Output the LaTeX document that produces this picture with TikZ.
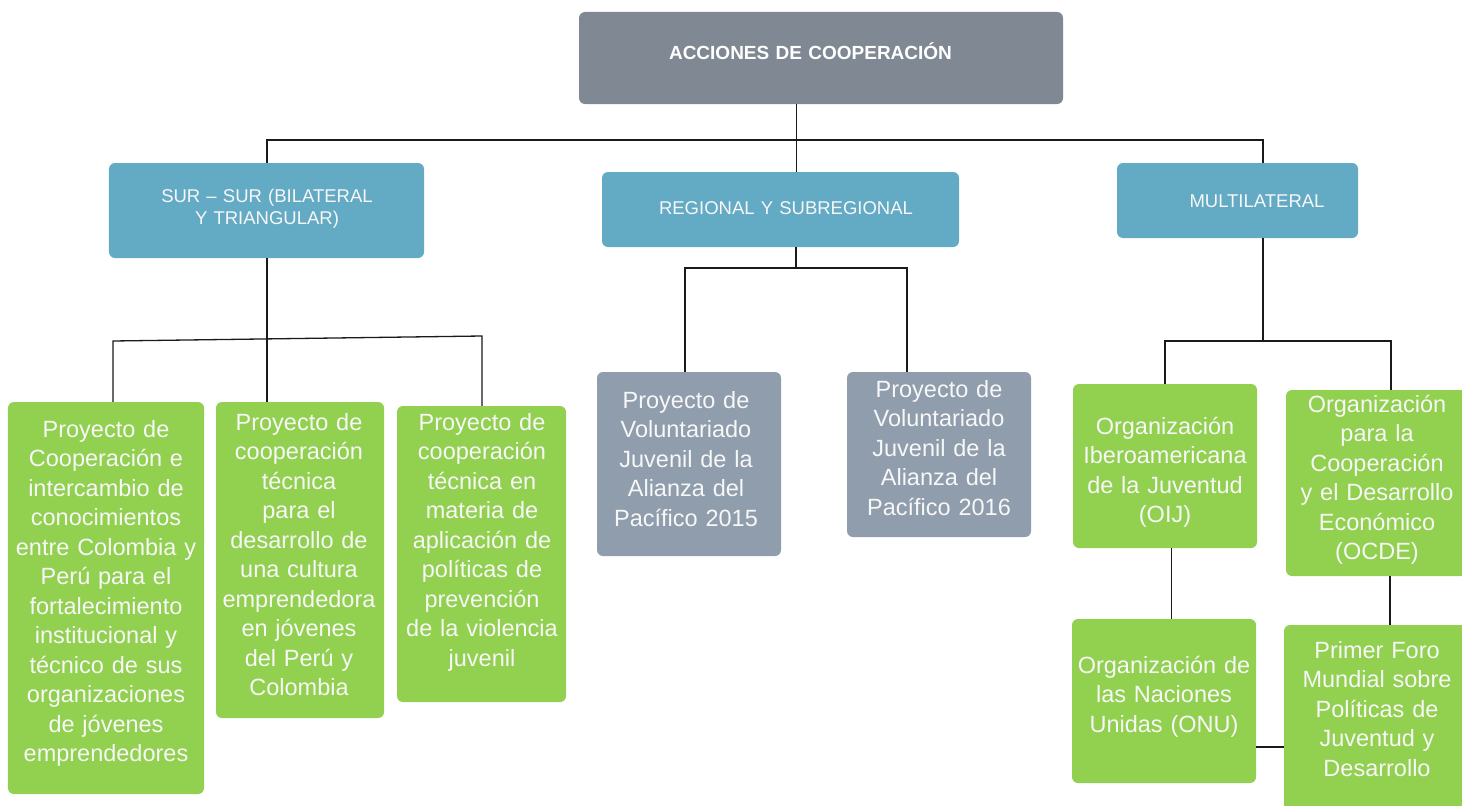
\documentclass[tikz,border=0pt]{standalone}
\usepackage{fontspec}
\setmainfont{Liberation Sans}
\definecolor{topgray}{HTML}{7F8893}
\definecolor{bluebox}{HTML}{63AAC4}
\definecolor{greenbox}{HTML}{92D050}
\definecolor{graybox}{HTML}{8F9DAD}
\definecolor{linec}{HTML}{1A1A1A}
\definecolor{softwhite}{HTML}{F7F7F7}
\tikzset{
  boxbase/.style={rectangle, rounded corners=6bp, inner sep=0pt, draw=none},
  topbox/.style={boxbase, fill=topgray},
  bluebx/.style={boxbase, fill=bluebox},
  greenbx/.style={boxbase, fill=greenbox},
  graybx/.style={boxbase, fill=graybox},
  conn/.style={draw=linec, line width=1.3bp},
  bigtxt/.style={anchor=base, inner sep=0pt, text width=260bp, align=center, text=softwhite,
     font=\fontsize{23.5bp}{29.5bp}\selectfont},
  midtxt/.style={anchor=base, inner sep=0pt, text width=360bp, align=center, text=softwhite,
     font=\fontsize{18.5bp}{22bp}\selectfont},
  toptxt/.style={anchor=base, inner sep=0pt, text width=400bp, align=center, text=white,
     font=\fontsize{19bp}{22bp}\selectfont\bfseries},
}
\begin{document}
\begin{tikzpicture}[x=1bp, y=-1bp]
\useasboundingbox (0,0) rectangle (1462,805);
\clip (0,0) rectangle (1462,805);
\fill[white] (0,0) rectangle (1462,805);

% boxes
\node[topbox, minimum width=484bp, minimum height=92bp] (top) at (821,58) {};
\node[bluebx, minimum width=315bp, minimum height=95bp] (sur) at (266.5,210.5) {};
\node[bluebx, minimum width=357bp, minimum height=75bp] (reg) at (780.5,209.5) {};
\node[bluebx, minimum width=241bp, minimum height=75bp] (mul) at (1237.5,200.5) {};
\node[greenbx, minimum width=196bp, minimum height=392bp] (pA) at (106,598) {};
\node[greenbx, minimum width=168bp, minimum height=316bp] (pB) at (300,560) {};
\node[greenbx, minimum width=169bp, minimum height=296bp] (pC) at (481.5,554) {};
\node[graybx, minimum width=184bp, minimum height=184bp] (g1) at (689,464) {};
\node[graybx, minimum width=184bp, minimum height=165bp] (g2) at (939,454.5) {};
\node[greenbx, minimum width=184bp, minimum height=164bp] (oij) at (1165,466) {};
\node[greenbx, minimum width=182bp, minimum height=186bp] (ocde) at (1377,483) {};
\node[greenbx, minimum width=184bp, minimum height=164bp] (onu) at (1164,701) {};
\node[greenbx, minimum width=186bp, minimum height=195bp] (foro) at (1377,722.5) {};

% junction coordinates
\coordinate (j0) at (796.5,140);
\coordinate (jl) at (267,140);
\coordinate (jr) at (1263,140);
\coordinate (s1) at (113,341);
\coordinate (s2) at (267,338.5);
\coordinate (s3) at (482,336);
\coordinate (r0) at (796,268);
\coordinate (r1) at (685,268);
\coordinate (r2) at (907,268);
\coordinate (m0) at (1263,341);
\coordinate (m1) at (1165,341);
\coordinate (m2) at (1391,341);

% connectors
\draw[conn] (top.south -| j0) -- (j0);
\draw[conn] (sur.north -| jl) -- (jl) -- (jr) -- (mul.north -| jr);
\draw[conn] (reg.north -| j0) -- (j0);
\draw[conn] (sur.south -| s2) -- (s2);
\draw[conn] (pA.north -| s1) -- (s1) -- (s3) -- (pC.north -| s3);
\draw[conn] (pB.north -| s2) -- (s2);
\draw[conn] (reg.south -| r0) -- (r0);
\draw[conn] (g1.north -| r1) -- (r1) -- (r2) -- (g2.north -| r2);
\draw[conn] (mul.south -| m0) -- (m0);
\draw[conn] (oij.north -| m1) -- (m1) -- (m2) -- (ocde.north -| m2);
\draw[conn] (oij.south -| 1171.5,0) -- (onu.north -| 1171.5,0);
\draw[conn] (ocde.south -| 1390,0) -- (foro.north -| 1390,0);
\draw[conn] (onu.east |- 0,747) -- (foro.west |- 0,747);

% texts
\node[toptxt] (ttop) at (810.5,60) {ACCIONES DE COOPERACIÓN};
\node[midtxt] (tsur) at (267,202) {SUR – SUR (BILATERAL\\ Y TRIANGULAR)};
\node[midtxt] (treg) at (786,214) {REGIONAL Y SUBREGIONAL};
\node[midtxt] (tmul) at (1257,207) {MULTILATERAL};

\node[bigtxt] (tA) at (106,437) {Proyecto de\\Cooperación e\\intercambio de\\conocimientos\\entre Colombia y\\Perú para el\\fortalecimiento\\institucional y\\técnico de sus\\organizaciones\\de jóvenes\\emprendedores};
\node[bigtxt] (tB) at (299,430) {Proyecto de\\cooperación\\técnica\\para el\\desarrollo de\\una cultura\\emprendedora\\en jóvenes\\del Perú y\\Colombia};
\node[bigtxt] (tC) at (482,430) {Proyecto de\\cooperación\\técnica en\\materia de\\aplicación de\\políticas de\\prevención\\de la violencia\\juvenil};
\node[bigtxt] (tg1) at (686,408) {Proyecto de\\Voluntariado\\Juvenil de la\\Alianza del\\Pacífico 2015};
\node[bigtxt] (tg2) at (939,397) {Proyecto de\\Voluntariado\\Juvenil de la\\Alianza del\\Pacífico 2016};
\node[bigtxt] (toij) at (1165,434) {Organización\\Iberoamericana\\de la Juventud\\(OIJ)};
\node[bigtxt] (tocde) at (1377,412) {Organización\\para la\\Cooperación\\y el Desarrollo\\Económico\\(OCDE)};
\node[bigtxt] (tonu) at (1164,673) {Organización de\\las Naciones\\Unidas (ONU)};
\node[bigtxt] (tforo) at (1377,658) {Primer Foro\\Mundial sobre\\Políticas de\\Juventud y\\Desarrollo};
\end{tikzpicture}
\end{document}
